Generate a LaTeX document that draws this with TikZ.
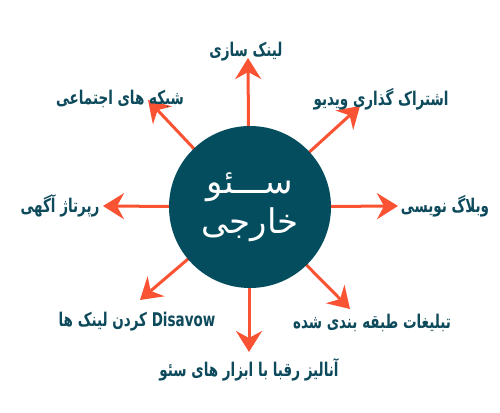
\documentclass[tikz,border=0pt]{standalone}
\usepackage{fontspec}
\usepackage{graphicx}
\usetikzlibrary{arrows.meta}
\TeXXeTstate=1
\newfontfamily\fa[Script=Arabic]{DejaVu Sans}
\definecolor{arrcol}{HTML}{FA5334}
\definecolor{seoteal}{HTML}{034D5E}
\definecolor{lblcol}{HTML}{0D4A5B}
\newcommand{\tallfa}[1]{\scalebox{1}[1.4]{#1}}
\tikzset{
  ray/.style={draw=arrcol, line width=3pt, -{Stealth[length=21pt,width=26pt,inset=7pt]}},
  lbl/.style={text=lblcol, font=\fa\bfseries\fontsize{13.5}{15}\selectfont, inner sep=0pt},
  hub/.style={circle, fill=seoteal, minimum size=162pt, inner sep=0pt, text=white, align=center, font=\fa\fontsize{34}{44}\selectfont}
}
\begin{document}
\begin{tikzpicture}[x=1pt,y=-1pt]
\useasboundingbox (0,0) rectangle (500,412);
\fill[white] (0,0) rectangle (500,412);
\coordinate (o) at (249,207);
\coordinate (t1) at (248,58);
\coordinate (t2) at (360,106);
\coordinate (t3) at (398,206);
\coordinate (t4) at (350,309);
\coordinate (t5) at (249,352);
\coordinate (t6) at (140,300);
\coordinate (t7) at (103,206);
\coordinate (t8) at (148,100);
\foreach \t in {t1,t2,t3,t4,t5,t6,t7,t8} \draw[ray] (o) -- (\t);
\node[hub] (c) at (250,207) {\beginR ســـئو\endR\\[-4pt]\beginR خارجی\endR};
\node[lbl] (l1) at (246,52) {\tallfa{\beginR لینک سازی\endR}};
\node[lbl] (l2) at (381,99) {\tallfa{\beginR اشتراک گذاری ویدیو\endR}};
\node[lbl] (l3) at (445,206) {\tallfa{\beginR وبلاگ نویسی\endR}};
\node[lbl] (l4) at (372,323) {\tallfa{\beginR تبلیغات طبقه بندی شده\endR}};
\node[lbl] (l5) at (249,370) {\tallfa{\beginR آنالیز رقبا با ابزار های سئو\endR}};
\node[lbl] (l6) at (137,322) {\tallfa{\beginR \beginL Disavow\endL{} کردن لینک ها\endR}};
\node[lbl] (l7) at (60,206) {\tallfa{\beginR رپرتاژ آگهی\endR}};
\node[lbl] (l8) at (120,99) {\tallfa{\beginR شبکه های اجتماعی\endR}};
\end{tikzpicture}
\end{document}
